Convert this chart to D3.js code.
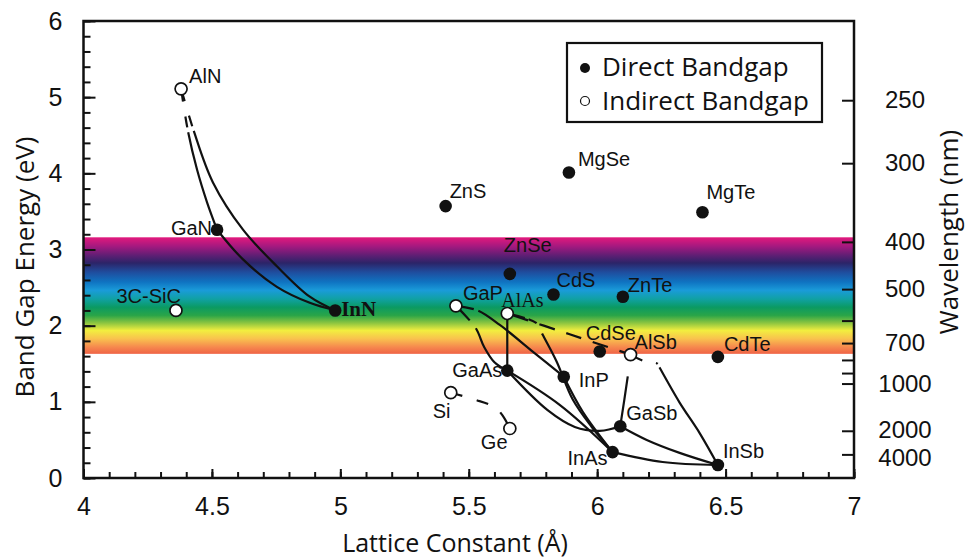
<!DOCTYPE html>
<html>
<head>
<meta charset="utf-8">
<script src="https://cdn.jsdelivr.net/npm/d3@7"></script>
<style>
  body { margin: 0; background: #fff; }
</style>
</head>
<body>
<script>
const width = 965;
const height = 560;

// compounds: [lattice constant (Å), band gap (eV)]
const directNames = ['GaN', 'InN', 'ZnS', 'MgSe', 'MgTe', 'ZnSe', 'CdS', 'ZnTe', 'CdSe', 'CdTe', 'GaAs', 'InP', 'GaSb', 'InAs', 'InSb'];
const directLattice = [4.52, 4.98, 5.41, 5.89, 6.41, 5.66, 5.83, 6.10, 6.01, 6.47, 5.65, 5.87, 6.09, 6.06, 6.47];
const directGap = [3.26, 2.20, 3.57, 4.01, 3.49, 2.68, 2.41, 2.38, 1.66, 1.59, 1.41, 1.33, 0.68, 0.34, 0.17];

const indirectNames = ['AlN', '3C-SiC', 'GaP', 'AlAs', 'AlSb', 'Si', 'Ge'];
const indirectLattice = [4.38, 4.36, 5.45, 5.65, 6.13, 5.43, 5.66];
const indirectGap = [5.11, 2.20, 2.26, 2.16, 1.62, 1.12, 0.65];

// alloy curves
const AlGaN = [[4.38, 5.11], [4.407, 4.55], [4.442, 4.05], [4.481, 3.62], [4.52, 3.26]];
const AlInN = [[4.38, 5.11], [4.43, 4.55], [4.504, 3.88], [4.621, 3.26], [4.753, 2.78], [4.881, 2.38], [4.98, 2.20]];
const InGaN = [[4.52, 3.26], [4.621, 2.87], [4.753, 2.51], [4.881, 2.30], [4.98, 2.20]];
const GaAsP = [[5.45, 2.26], [5.527, 1.97], [5.56, 1.72], [5.60, 1.52], [5.65, 1.41]];
const GaInP = [[5.45, 2.26], [5.535, 2.20], [5.621, 2.01], [5.749, 1.66], [5.87, 1.33]];
const AlGaAs = [[5.65, 2.16], [5.65, 1.41]];
const AlAsSb = [[5.65, 2.16], [5.89, 1.89], [6.13, 1.62]];
const AlInAs = [[5.65, 2.16], [5.765, 2.03], [5.788, 1.88], [5.842, 1.53], [5.905, 1.03], [5.979, 0.67], [6.06, 0.34]];
const InAsP = [[5.87, 1.33], [5.944, 0.87], [6.06, 0.34]];
const InGaAs = [[5.65, 1.41], [5.854, 0.96], [6.06, 0.34]];
const GaAsSb = [[5.65, 1.41], [5.807, 0.89], [5.913, 0.67], [6.01, 0.62], [6.09, 0.68]];
const AlGaSb = [[6.13, 1.62], [6.119, 1.33], [6.09, 0.68]];
const AlInSb = [[6.13, 1.62], [6.185, 1.53], [6.235, 1.50], [6.243, 1.45], [6.321, 0.99], [6.399, 0.59], [6.47, 0.17]];
const GaInSb = [[6.09, 0.68], [6.193, 0.50], [6.321, 0.33], [6.47, 0.17]];
const InAsSb = [[6.06, 0.34], [6.255, 0.21], [6.47, 0.17]];
const SiGe = [[5.43, 1.12], [5.523, 1.03], [5.601, 0.93], [5.632, 0.82], [5.66, 0.65]];

// visible band (eV) and its colours top to bottom
const visibleBand = [1.63, 3.16];
const spectrumColors = ['#e3197d', '#a2197f', '#5b1f73', '#2c2468', '#1f4d9e', '#0f74c2', '#1a9bd9', '#10a1a3',
  '#0b9a63', '#2aa548', '#8cc540', '#f2ee3f', '#f9c24e', '#f68a4e', '#ef6346'];
const spectrumOffsets = [0, 0.08, 0.16, 0.22, 0.30, 0.385, 0.455, 0.53, 0.60, 0.67, 0.735, 0.80, 0.87, 0.94, 1];

const xTicks = [4, 4.5, 5, 5.5, 6, 6.5, 7];
const yTicks = [0, 1, 2, 3, 4, 5, 6];
const wavelengthTicks = [250, 300, 400, 500, 600, 700, 800, 900, 1000, 2000, 4000];
const wavelengthLabels = ['250', '300', '400', '500', '', '700', '', '', '1000', '2000', '4000'];

const x = d3.scaleLinear().domain([4, 7]).range([83.5, 854]);
const y = d3.scaleLinear().domain([0, 6]).range([478, 21]);

const svg = d3.select('body')
    .append('svg')
    .attr('width', width)
    .attr('height', height);

// spectrum band
const grad = svg.append('defs').append('linearGradient')
    .attr('id', 'spectrum')
    .attr('x1', 0).attr('y1', 0).attr('x2', 0).attr('y2', 1);
grad.selectAll('stop')
    .data(spectrumColors)
    .enter()
    .append('stop')
    .attr('offset', (d, i) => spectrumOffsets[i])
    .attr('stop-color', d => d);

svg.append('rect')
    .attr('x', x(4))
    .attr('y', y(visibleBand[1]))
    .attr('width', x(7) - x(4))
    .attr('height', y(visibleBand[0]) - y(visibleBand[1]))
    .attr('fill', 'url(#spectrum)');

// axes, ticks pointing inward
const tickFont = 'Liberation Sans, Arial, sans-serif';
function styleAxis(g) {
    g.select('.domain').remove();
    g.selectAll('.tick line').attr('stroke', '#111').attr('stroke-width', 2);
    g.selectAll('.tick text').attr('fill', '#111');
    g.attr('font-family', tickFont).attr('font-size', 25);
}

svg.append('g')
    .attr('transform', `translate(0,${y(0)})`)
    .call(d3.axisBottom(x).tickValues(d3.range(40, 71).map(d => d / 10)).tickSize(-6).tickFormat(''))
    .call(styleAxis);
svg.append('g')
    .attr('transform', `translate(0,${y(0)})`)
    .call(d3.axisBottom(x).tickValues(xTicks).tickSize(-9).tickPadding(19).tickFormat(d => d))
    .call(styleAxis);

svg.append('g')
    .attr('transform', `translate(${x(4)},0)`)
    .call(d3.axisLeft(y).tickValues(d3.range(0, 31).map(d => d / 5)).tickSize(-7).tickFormat(''))
    .call(styleAxis);
svg.append('g')
    .attr('transform', `translate(${x(4)},0)`)
    .call(d3.axisLeft(y).tickValues(yTicks).tickSize(-12).tickPadding(21).tickFormat(d => d))
    .call(styleAxis);

const right = svg.append('g')
    .attr('transform', `translate(${x(7)},0)`)
    .call(d3.axisRight(y).tickValues(wavelengthTicks.map(l => 1240 / l)).tickSize(-12)
        .tickFormat((d, i) => wavelengthLabels[i]))
    .call(styleAxis);
// the two lowest labels sit a little apart, as in the original
right.selectAll('.tick text')
    .attr('x', 51)
    .attr('font-size', 24)
    .attr('text-anchor', 'middle')
    .attr('transform', (d, i) => wavelengthTicks[i] === 2000 ? 'translate(0,-1)' : wavelengthTicks[i] === 4000 ? 'translate(0,3)' : null);

svg.append('rect')
    .attr('x', x(4))
    .attr('y', y(6))
    .attr('width', x(7) - x(4))
    .attr('height', y(0) - y(6))
    .attr('fill', 'none')
    .attr('stroke', '#111')
    .attr('stroke-width', 2.5);

// alloy curves
const line = d3.line()
    .x(d => x(d[0]))
    .y(d => y(d[1]))
    .curve(d3.curveCatmullRom.alpha(0.5));

const curves = [
    [AlGaN, '13,15,11,5,2000', 0],
    [AlInN, '13,15,11,5,2000', 0],
    [InGaN, null, 0],
    [GaAsP, '20,10,2000', 0],
    [GaInP, '18,5,2000', 0],
    [AlGaAs, null, 0],
    [AlAsSb, '16,12', -6],
    [AlInAs, '18,4,9,12,2000', 0],
    [InAsP, null, 0],
    [InGaAs, null, 0],
    [GaAsSb, null, 0],
    [AlGaSb, '0,22,2000', 0],
    [AlInSb, '13,14,2,4,2000', 0],
    [GaInSb, null, 0],
    [InAsSb, null, 0],
    [SiGe, '12,15,12,15,40', 0]
];

svg.append('g')
    .attr('class', 'alloys')
    .selectAll('path')
    .data(curves)
    .enter()
    .append('path')
    .attr('d', d => line(d[0]))
    .attr('fill', 'none')
    .attr('stroke', '#111')
    .attr('stroke-width', 2.2)
    .attr('stroke-dasharray', d => d[1])
    .attr('stroke-dashoffset', d => d[2]);

// points
const direct = directNames.map((n, i) => ({name: n, a: directLattice[i], e: directGap[i]}));
const indirect = indirectNames.map((n, i) => ({name: n, a: indirectLattice[i], e: indirectGap[i]}));

svg.append('g')
    .selectAll('circle')
    .data(direct)
    .enter()
    .append('circle')
    .attr('cx', d => x(d.a))
    .attr('cy', d => y(d.e))
    .attr('r', 6.3)
    .attr('fill', '#111');

svg.append('g')
    .selectAll('circle')
    .data(indirect)
    .enter()
    .append('circle')
    .attr('cx', d => x(d.a))
    .attr('cy', d => y(d.e))
    .attr('r', 6)
    .attr('fill', '#fff')
    .attr('stroke', '#111')
    .attr('stroke-width', 1.7);

// label placement: dx, dy, anchor
const labelPos = {
    'AlN': [8, -6, 'start'], 'GaN': [-5, 5, 'end'], 'InN': [6, 6, 'start'], '3C-SiC': [5, -7, 'end'],
    'ZnS': [4, -8, 'start'], 'MgSe': [9, -7, 'start'], 'MgTe': [4, -13, 'start'], 'ZnSe': [-6, -22, 'start'],
    'CdS': [3, -7, 'start'], 'ZnTe': [5, -5, 'start'], 'GaP': [7, -6, 'start'], 'AlAs': [-6, -6, 'start'],
    'CdSe': [-14, -12, 'start'], 'AlSb': [4, -6, 'start'], 'CdTe': [6, -6, 'start'], 'GaAs': [-5, 6, 'end'],
    'InP': [15, 10, 'start'], 'Si': [-18, 25, 'start'], 'Ge': [-29, 21, 'start'], 'GaSb': [6, -6, 'start'],
    'InAs': [-5, 13, 'end'], 'InSb': [5, -7, 'start']
};
const serifLabels = ['InN', 'AlAs'];

svg.append('g')
    .selectAll('text')
    .data(direct.concat(indirect))
    .enter()
    .append('text')
    .attr('x', d => x(d.a) + labelPos[d.name][0])
    .attr('y', d => y(d.e) + labelPos[d.name][1])
    .attr('text-anchor', d => labelPos[d.name][2])
    .attr('font-family', d => serifLabels.includes(d.name) ? 'Liberation Serif, serif' : tickFont)
    .attr('font-weight', d => d.name === 'InN' ? 'bold' : 'normal')
    .attr('font-size', d => d.name === 'InN' ? 21 : 20)
    .attr('fill', '#111')
    .text(d => d.name);

// axis titles
const titleFont = 'Open Sans, sans-serif';
svg.append('text')
    .attr('x', 455)
    .attr('y', 552)
    .attr('text-anchor', 'middle')
    .attr('font-family', titleFont)
    .attr('font-size', 25)
    .attr('fill', '#111')
    .text('Lattice Constant (Å)');
svg.append('text')
    .attr('transform', 'translate(34,267) rotate(-90)')
    .attr('text-anchor', 'middle')
    .attr('font-family', titleFont)
    .attr('font-size', 26)
    .attr('fill', '#111')
    .text('Band Gap Energy (eV)');
svg.append('text')
    .attr('transform', 'translate(958,232) rotate(-90)')
    .attr('text-anchor', 'middle')
    .attr('font-family', titleFont)
    .attr('font-size', 26)
    .attr('fill', '#111')
    .text('Wavelength (nm)');

// legend
const legend = svg.append('g').attr('transform', 'translate(567,43)');
legend.append('rect')
    .attr('width', 255)
    .attr('height', 79)
    .attr('fill', '#fff')
    .attr('stroke', '#111')
    .attr('stroke-width', 2.2);
legend.append('circle').attr('cx', 18).attr('cy', 25).attr('r', 5).attr('fill', '#111');
legend.append('circle').attr('cx', 18).attr('cy', 58).attr('r', 4.5)
    .attr('fill', '#fff').attr('stroke', '#111').attr('stroke-width', 1.2);
legend.selectAll('text.item')
    .data(['Direct Bandgap', 'Indirect Bandgap'])
    .enter()
    .append('text')
    .attr('class', 'item')
    .attr('x', 35)
    .attr('y', (d, i) => 33 + i * 34)
    .attr('font-family', titleFont)
    .attr('font-size', 26)
    .attr('fill', '#111')
    .text(d => d);
</script>
</body>
</html>
